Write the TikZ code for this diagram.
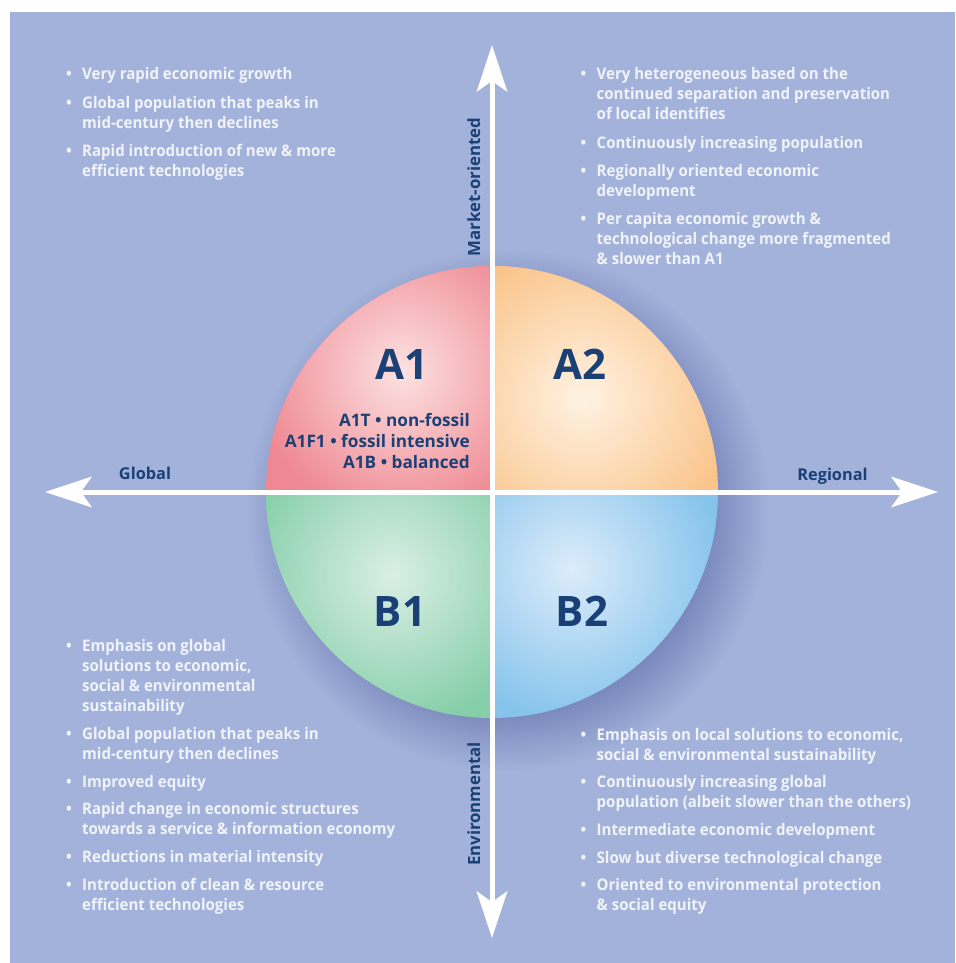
\documentclass[tikz,border=0pt]{standalone}
\usepackage{fontspec}
\setmainfont{Open Sans}
\newfontfamily\blkfont{Open Sans}[FakeStretch=0.94]
\usetikzlibrary{arrows.meta}
\definecolor{bg}{RGB}{162,178,218}
\definecolor{shd}{RGB}{120,134,186}
\definecolor{navy}{RGB}{26,64,118}
\definecolor{wtxt}{RGB}{241,243,250}
\definecolor{aoneE}{RGB}{239,136,146}
\definecolor{aoneL}{RGB}{252,226,226}
\definecolor{atwoE}{RGB}{250,196,138}
\definecolor{atwoL}{RGB}{255,242,226}
\definecolor{boneE}{RGB}{135,207,170}
\definecolor{boneL}{RGB}{218,239,229}
\definecolor{btwoE}{RGB}{135,196,236}
\definecolor{btwoL}{RGB}{220,236,250}
\pgfdeclareradialshading{shadowsh}{\pgfpoint{0bp}{0bp}}{color(0bp)=(shd); color(19bp)=(shd); color(25bp)=(bg); color(50bp)=(bg)}
\pgfdeclareradialshading{qaone}{\pgfpoint{0bp}{0bp}}{color(0bp)=(aoneL); color(25bp)=(aoneE); color(50bp)=(aoneE)}
\pgfdeclareradialshading{qatwo}{\pgfpoint{0bp}{0bp}}{color(0bp)=(atwoL); color(25bp)=(atwoE); color(50bp)=(atwoE)}
\pgfdeclareradialshading{qbone}{\pgfpoint{0bp}{0bp}}{color(0bp)=(boneL); color(25bp)=(boneE); color(50bp)=(boneE)}
\pgfdeclareradialshading{qbtwo}{\pgfpoint{0bp}{0bp}}{color(0bp)=(btwoL); color(25bp)=(btwoE); color(50bp)=(btwoE)}
\newcommand\bul{\makebox[16pt][l]{\textbullet}}
\newcommand\ind{\hspace*{16pt}}
\tikzset{
  axis/.style={draw=white, line width=5pt,
    {Stealth[length=47pt,width=31pt,inset=11pt,line width=0pt]}-{Stealth[length=47pt,width=31pt,inset=11pt,line width=0pt]}},
  big/.style={anchor=base, inner sep=0, text=navy, font=\bfseries\fontsize{42}{46}\selectfont},
  axlabel/.style={anchor=base, inner sep=0, text=navy, font=\bfseries\fontsize{16.3}{20}\selectfont},
  vlabel/.style={anchor=base, inner sep=0, text=navy, rotate=90, font=\bfseries\fontsize{16.8}{20}\selectfont},
  blk/.style={anchor=base west, inner sep=0, text=wtxt, font=\blkfont\bfseries\fontsize{16}{20}\selectfont},
  sub/.style={anchor=base east, inner sep=0, text=navy, font=\bfseries\fontsize{17.2}{20.8}\selectfont}
}
\begin{document}
\begin{tikzpicture}[x=1pt,y=-1pt]
\useasboundingbox (0,0) rectangle (955,963);
\fill[white] (0,0) rectangle (955,963);
\fill[bg] (9.5,12) rectangle (955,963);
\coordinate (ctr) at (492,492);
\coordinate (top) at (492,45);
\coordinate (bot) at (492,938);
\coordinate (lft) at (45,492);
\coordinate (rgt) at (938,492);
% shadow
\shade[shading=shadowsh] (508,510) circle (262);
% quadrants
\begin{scope}
  \clip (ctr) circle (226);
  \begin{scope}
    \clip (250,250) rectangle (ctr);
    \fill[aoneE] (250,250) rectangle (ctr);
    \shade[shading=qaone] (402,372) circle (150);
  \end{scope}
  \begin{scope}
    \clip (734,250) rectangle (ctr);
    \fill[atwoE] (734,250) rectangle (ctr);
    \shade[shading=qatwo] (583,398) circle (155);
  \end{scope}
  \begin{scope}
    \clip (250,734) rectangle (ctr);
    \fill[boneE] (250,734) rectangle (ctr);
    \shade[shading=qbone] (392,575) circle (150);
  \end{scope}
  \begin{scope}
    \clip (734,734) rectangle (ctr);
    \fill[btwoE] (734,734) rectangle (ctr);
    \shade[shading=qbtwo] (572,570) circle (150);
  \end{scope}
\end{scope}
% axes
\draw[axis] (lft) -- (rgt);
\draw[axis] (bot) -- (top);
% labels
\node[big] (a1) at (401.5,379.3) {A1};
\node[big] (a2) at (579.5,379.3) {A2};
\node[big] (b1) at (400,626.7) {B1};
\node[big] (b2) at (582,626.7) {B2};
\node[sub] (a1sub) at (470,426.7) {\begin{tabular}[t]{@{}r@{}}A1T \textbullet{} non-fossil\\ A1F1 \textbullet{} fossil intensive\\ A1B \textbullet{} balanced\end{tabular}};
\node[axlabel] (glob) at (145,479) {Global};
\node[axlabel] (reg) at (832.5,480) {Regional};
\node[vlabel] (mkt) at (480,187) {Market-oriented};
\node[vlabel] (env) at (480,804) {Environmental};
% text blocks
\node[blk] (tl) at (66,80) {\begin{tabular}[t]{@{}l@{}}
\bul Very rapid economic growth\\[8.3pt]
\bul Global population that peaks in\\
\ind mid-century then declines\\[8.3pt]
\bul Rapid introduction of new \& more\\
\ind efficient technologies
\end{tabular}};
\node[blk] (tr) at (580.5,80) {\begin{tabular}[t]{@{}l@{}}
\bul Very heterogeneous based on the\\
\ind continued separation and preservation\\
\ind of local identifies\\[8.3pt]
\bul Continuously increasing population\\[8.3pt]
\bul Regionally oriented economic\\
\ind development\\[8.3pt]
\bul Per capita economic growth \&\\
\ind technological change more fragmented\\
\ind \& slower than A1
\end{tabular}};
\node[blk] (bl) at (66,651.7) {\begin{tabular}[t]{@{}l@{}}
\bul Emphasis on global\\
\ind solutions to economic,\\
\ind social \& environmental\\
\ind sustainability\\[7.7pt]
\bul Global population that peaks in\\
\ind mid-century then declines\\[7.7pt]
\bul Improved equity\\[7.7pt]
\bul Rapid change in economic structures\\
\ind towards a service \& information economy\\[7.7pt]
\bul Reductions in material intensity\\[7.7pt]
\bul Introduction of clean \& resource\\
\ind efficient technologies
\end{tabular}};
\node[blk] (br) at (580.5,740) {\begin{tabular}[t]{@{}l@{}}
\bul Emphasis on local solutions to economic,\\
\ind social \& environmental sustainability\\[7.7pt]
\bul Continuously increasing global\\
\ind population (albeit slower than the others)\\[7.7pt]
\bul Intermediate economic development\\[7.7pt]
\bul Slow but diverse technological change\\[7.7pt]
\bul Oriented to environmental protection\\
\ind \& social equity
\end{tabular}};
\end{tikzpicture}
\end{document}
